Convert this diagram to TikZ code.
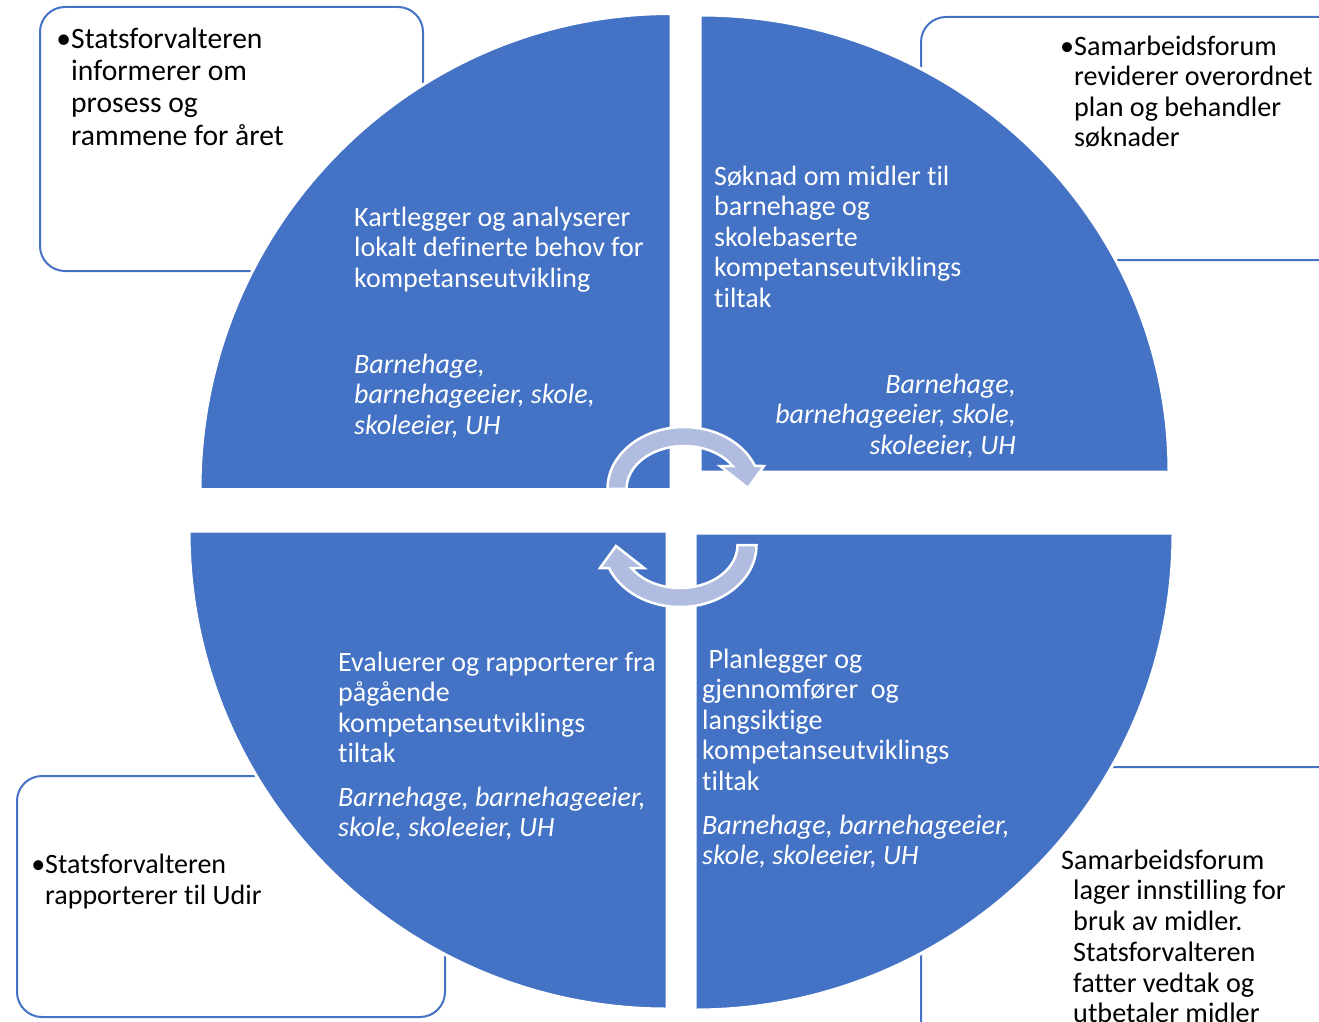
\documentclass[tikz,border=0pt]{standalone}
\usepackage{fontspec}
\setmainfont{Carlito}[Ligatures={NoCommon}]
\definecolor{qblue}{HTML}{4472C4}
\definecolor{arrowfill}{RGB}{176,189,224}
\begin{document}
\begin{tikzpicture}[x=1pt,y=1pt,
  infobox/.style={draw=qblue, line width=2pt, fill=white, rounded corners=25pt},
  quad/.style={fill=qblue, draw=white, line width=3pt},
  qtext/.style={text=white, font=\fontsize{28}{30.5}\selectfont, align=left, anchor=north west, inner sep=0pt},
  qital/.style={qtext, font=\fontsize{28}{30.5}\selectfont\itshape},
  btext/.style={text=black, font=\fontsize{28.1}{30.5}\selectfont, align=left, anchor=north west, inner sep=0pt},
  cyclearrow/.style={fill=arrowfill, draw=white, line width=2.5pt, line join=miter}
]
\useasboundingbox (0,0) rectangle (1319,-1022);
\clip (0,0) rectangle (1319,-1022);

% corner boxes
\draw[infobox] (40,-7) rectangle (423,-271);
\draw[infobox] (921,-17) rectangle (1345,-260);
\draw[infobox] (17,-776) rectangle (445,-1017);
\draw[infobox] (921,-767) rectangle (1345,-1060);

% quadrants
\draw[quad] (671,-489.5) -- (200,-489.5) arc[start angle=180, end angle=90, x radius=471, y radius=476] -- cycle;
\draw[quad] (700,-472) -- (700,-15) arc[start angle=90, end angle=0, x radius=469, y radius=457] -- cycle;
\draw[quad] (667,-531) -- (189,-531) arc[start angle=180, end angle=270, x radius=478, y radius=478] -- cycle;
\draw[quad] (695,-533) -- (1173,-533) arc[start angle=0, end angle=-90, x radius=478, y radius=477] -- cycle;

% quadrant texts
\node[qtext] (tlmain) at (354,-204.6) {\strut Kartlegger og analyserer\\lokalt definerte behov for\\kompetanseutvikling};
\node[qital] (tlwho) at (354,-351.6) {\strut Barnehage,\\barnehageeier, skole,\\skoleeier, UH};

\node[qtext] (trmain) at (714,-163.6) {\strut Søknad om midler til\\barnehage og\\skolebaserte\\kompetanseutviklings\\tiltak};
\node[qital, anchor=north east, align=right] (trwho) at (1016,-371.6) {\strut Barnehage,\\barnehageeier, skole,\\skoleeier, UH};

\node[qtext] (blmain) at (338,-649.6) {\strut Evaluerer og rapporterer fra\\pågående\\kompetanseutviklings\\tiltak};
\node[qital] (blwho) at (338,-784.6) {\strut Barnehage, barnehageeier,\\skole, skoleeier, UH};

\node[qtext] (brmain) at (702,-646.6) {\strut\ Planlegger og\\gjennomfører\ \ og\\langsiktige\\kompetanseutviklings\\tiltak};
\node[qital] (brwho) at (702,-812.6) {\strut Barnehage, barnehageeier,\\skole, skoleeier, UH};

% box texts
\node[btext, font=\fontsize{29.6}{32.3}\selectfont] (tlbox) at (71,-25.4) {\strut\llap{•}Statsforvalteren\\informerer om\\prosess og\\rammene for året};
\node[btext] (trbox) at (1074,-33.6) {\strut\llap{•}Samarbeidsforum\\reviderer overordnet\\plan og behandler\\søknader};
\node[btext, font=\fontsize{28}{31}\selectfont] (blbox) at (45,-851.3) {\strut\llap{•}Statsforvalteren\\rapporterer til Udir};
\node[btext, font=\fontsize{28.2}{30.7}\selectfont] (brbox) at (1073,-847.5) {\strut\hspace*{-12pt}Samarbeidsforum\\lager innstilling for\\bruk av midler.\\Statsforvalteren\\fatter vedtak og\\utbetaler midler};

% circular arrows
\begin{scope}[shift={(684,-489)}]
\draw[cyclearrow] (-76.5,0) arc[start angle=180, end angle=21.8, x radius=76.5, y radius=62]
  -- (80,23) -- (64,1) -- (36,23) -- (48.6,23)
  arc[start angle=32.3, end angle=180, x radius=57.5, y radius=43] -- cycle;
\end{scope}
\begin{scope}[shift={(680,-545)}, rotate=180]
\draw[cyclearrow] (-76.5,0) arc[start angle=180, end angle=21.8, x radius=76.5, y radius=62]
  -- (80,23) -- (64,1) -- (36,23) -- (48.6,23)
  arc[start angle=32.3, end angle=180, x radius=57.5, y radius=43] -- cycle;
\end{scope}
\end{tikzpicture}
\end{document}
